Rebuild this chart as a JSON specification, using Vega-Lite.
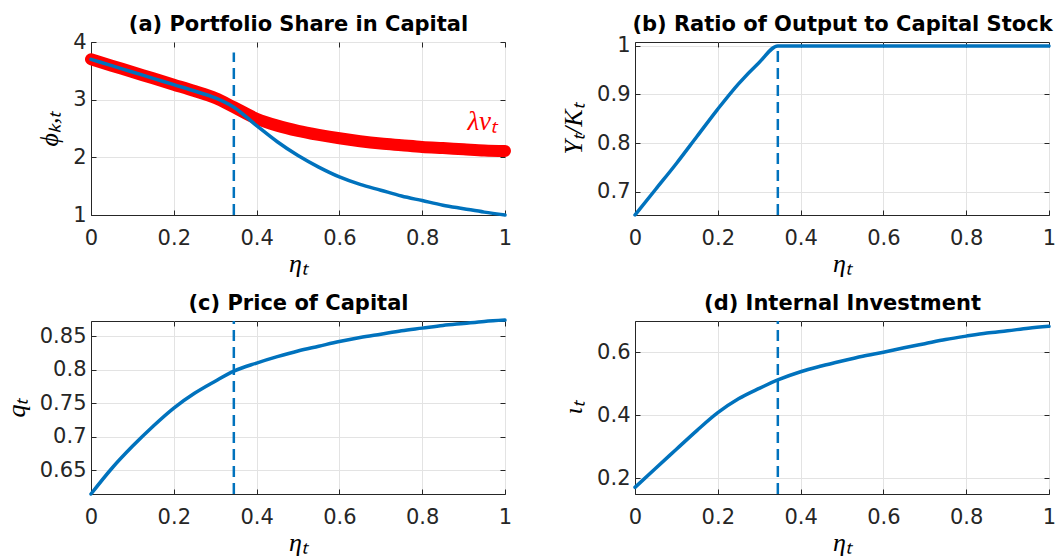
{
  "$schema": "https://vega.github.io/schema/vega-lite/v6.json",
  "background": "white",
  "padding": {"left": 2, "top": 12, "right": 0, "bottom": 0},
  "columns": 2,
  "bounds": "flush",
  "spacing": {"column": 130, "row": 106},
  "datasets": {
    "a_blue": [
      {"eta": 0, "v": 3.70}, {"eta": 0.05, "v": 3.59}, {"eta": 0.1, "v": 3.48}, {"eta": 0.15, "v": 3.37},
      {"eta": 0.2, "v": 3.26}, {"eta": 0.25, "v": 3.15}, {"eta": 0.3, "v": 3.03}, {"eta": 0.345, "v": 2.87},
      {"eta": 0.4, "v": 2.55}, {"eta": 0.45, "v": 2.27}, {"eta": 0.5, "v": 2.03}, {"eta": 0.55, "v": 1.83},
      {"eta": 0.6, "v": 1.66}, {"eta": 0.65, "v": 1.53}, {"eta": 0.7, "v": 1.43}, {"eta": 0.75, "v": 1.33},
      {"eta": 0.8, "v": 1.25}, {"eta": 0.85, "v": 1.17}, {"eta": 0.9, "v": 1.11}, {"eta": 0.95, "v": 1.05},
      {"eta": 1.0, "v": 1.0}
    ],
    "a_red": [
      {"eta": 0, "v": 3.70}, {"eta": 0.05, "v": 3.59}, {"eta": 0.1, "v": 3.48}, {"eta": 0.15, "v": 3.37},
      {"eta": 0.2, "v": 3.26}, {"eta": 0.25, "v": 3.15}, {"eta": 0.3, "v": 3.03}, {"eta": 0.345, "v": 2.87},
      {"eta": 0.4, "v": 2.67}, {"eta": 0.45, "v": 2.55}, {"eta": 0.5, "v": 2.46}, {"eta": 0.55, "v": 2.39},
      {"eta": 0.6, "v": 2.33}, {"eta": 0.65, "v": 2.28}, {"eta": 0.7, "v": 2.24}, {"eta": 0.75, "v": 2.21},
      {"eta": 0.8, "v": 2.18}, {"eta": 0.85, "v": 2.16}, {"eta": 0.9, "v": 2.14}, {"eta": 0.95, "v": 2.12},
      {"eta": 1.0, "v": 2.11}
    ],
    "b": [
      {"eta": 0, "v": 0.652}, {"eta": 0.05, "v": 0.705}, {"eta": 0.1, "v": 0.758}, {"eta": 0.15, "v": 0.814},
      {"eta": 0.2, "v": 0.870}, {"eta": 0.25, "v": 0.922}, {"eta": 0.3, "v": 0.966}, {"eta": 0.345, "v": 1.0},
      {"eta": 0.5, "v": 1.0}, {"eta": 0.75, "v": 1.0}, {"eta": 1.0, "v": 1.0}
    ],
    "c": [
      {"eta": 0, "v": 0.615}, {"eta": 0.05, "v": 0.653}, {"eta": 0.1, "v": 0.686}, {"eta": 0.15, "v": 0.716},
      {"eta": 0.2, "v": 0.743}, {"eta": 0.25, "v": 0.765}, {"eta": 0.3, "v": 0.783}, {"eta": 0.345, "v": 0.798},
      {"eta": 0.4, "v": 0.810}, {"eta": 0.45, "v": 0.8195}, {"eta": 0.5, "v": 0.828}, {"eta": 0.55, "v": 0.835},
      {"eta": 0.6, "v": 0.842}, {"eta": 0.65, "v": 0.848}, {"eta": 0.7, "v": 0.853}, {"eta": 0.75, "v": 0.858},
      {"eta": 0.8, "v": 0.862}, {"eta": 0.85, "v": 0.866}, {"eta": 0.9, "v": 0.869}, {"eta": 0.95, "v": 0.872},
      {"eta": 1.0, "v": 0.874}
    ],
    "d": [
      {"eta": 0, "v": 0.171}, {"eta": 0.05, "v": 0.232}, {"eta": 0.1, "v": 0.292}, {"eta": 0.15, "v": 0.352},
      {"eta": 0.2, "v": 0.408}, {"eta": 0.25, "v": 0.452}, {"eta": 0.3, "v": 0.485}, {"eta": 0.345, "v": 0.512},
      {"eta": 0.4, "v": 0.538}, {"eta": 0.45, "v": 0.556}, {"eta": 0.5, "v": 0.572}, {"eta": 0.55, "v": 0.587},
      {"eta": 0.6, "v": 0.600}, {"eta": 0.65, "v": 0.614}, {"eta": 0.7, "v": 0.627}, {"eta": 0.75, "v": 0.640},
      {"eta": 0.8, "v": 0.651}, {"eta": 0.85, "v": 0.661}, {"eta": 0.9, "v": 0.668}, {"eta": 0.95, "v": 0.676},
      {"eta": 1.0, "v": 0.682}
    ]
  },
  "concat": [
    {
      "width": 414, "height": 173,
      "resolve": {"axis": {"x": "independent", "y": "independent"}},
      "layer": [
        {
          "data": {"values": [{"eta": 0.345, "lo": 1, "hi": 3.82}]},
          "mark": {"type": "rule", "color": "#0072BD", "strokeWidth": 2.5, "strokeDash": [11, 6]},
          "encoding": {
            "x": {"field": "eta", "type": "quantitative", "scale": {"domain": [0, 1], "nice": false}, "title": "ηₜ", "axis": {"values": [0, 0.2, 0.4, 0.6, 0.8, 1], "format": "~g"}},
            "y": {"field": "lo", "type": "quantitative", "scale": {"domain": [1, 4], "nice": false, "zero": false}, "title": "ϕₖ,ₜ", "axis": {"values": [1, 2, 3, 4], "format": "~g"}},
            "y2": {"field": "hi"}
          }
        },
        {
          "data": {"name": "a_red"},
          "mark": {"type": "line", "color": "#FF0000", "strokeWidth": 12, "strokeCap": "round", "strokeJoin": "round", "interpolate": "monotone"},
          "encoding": {
            "x": {"field": "eta", "type": "quantitative", "scale": {"domain": [0, 1], "nice": false}, "axis": null},
            "y": {"field": "v", "type": "quantitative", "scale": {"domain": [1, 4], "nice": false, "zero": false}, "axis": null}
          }
        },
        {
          "data": {"name": "a_blue"},
          "mark": {"type": "line", "color": "#0072BD", "strokeWidth": 3.5, "strokeCap": "round", "interpolate": "monotone"},
          "encoding": {
            "x": {"field": "eta", "type": "quantitative", "scale": {"domain": [0, 1], "nice": false}, "axis": null},
            "y": {"field": "v", "type": "quantitative", "scale": {"domain": [1, 4], "nice": false, "zero": false}, "axis": null}
          }
        },
        {
          "data": {"values": [{"eta": 0.945, "v": 2.47, "label": "λvₜ"}]},
          "mark": {"type": "text", "color": "#FF0000", "font": "Liberation Serif", "fontStyle": "italic", "fontSize": 27, "align": "center", "baseline": "alphabetic"},
          "encoding": {
            "x": {"field": "eta", "type": "quantitative", "scale": {"domain": [0, 1], "nice": false}, "axis": null},
            "y": {"field": "v", "type": "quantitative", "scale": {"domain": [1, 4], "nice": false, "zero": false}, "axis": null},
            "text": {"field": "label"}
          }
        },
        {
          "data": {"name": "a_blue"},
          "mark": {"type": "line", "opacity": 0},
          "encoding": {
            "x": {"field": "eta", "type": "quantitative", "scale": {"domain": [0, 1], "nice": false}, "title": "(a) Portfolio Share in Capital", "axis": {"orient": "top", "values": [0, 0.2, 0.4, 0.6, 0.8, 1], "labels": false, "grid": false, "domain": false, "labelPadding": 0, "minExtent": 0, "maxExtent": 0, "titleFont": "DejaVu Sans", "titleFontSize": 21, "titleFontWeight": "bold", "titleFontStyle": "normal", "titlePadding": 8}},
            "y": {"field": "v", "type": "quantitative", "scale": {"domain": [1, 4], "nice": false, "zero": false}, "axis": {"orient": "right", "values": [1, 2, 3, 4], "labels": false, "grid": false, "domain": false, "title": null, "labelPadding": 0, "minExtent": 0, "maxExtent": 0}}
          }
        }
      ]
    },
    {
      "width": 414, "height": 173,
      "resolve": {"axis": {"x": "independent", "y": "independent"}},
      "layer": [
        {
          "data": {"values": [{"eta": 0.345, "lo": 0.652, "hi": 1.0}]},
          "mark": {"type": "rule", "color": "#0072BD", "strokeWidth": 2.5, "strokeDash": [11, 6]},
          "encoding": {
            "x": {"field": "eta", "type": "quantitative", "scale": {"domain": [0, 1], "nice": false}, "title": "ηₜ", "axis": {"values": [0, 0.2, 0.4, 0.6, 0.8, 1], "format": "~g"}},
            "y": {"field": "lo", "type": "quantitative", "scale": {"domain": [0.652, 1.008], "nice": false, "zero": false}, "title": "Yₜ/Kₜ", "axis": {"values": [0.7, 0.8, 0.9, 1], "format": "~g"}},
            "y2": {"field": "hi"}
          }
        },
        {
          "data": {"name": "b"},
          "mark": {"type": "line", "color": "#0072BD", "strokeWidth": 3.5, "strokeCap": "round", "interpolate": "monotone"},
          "encoding": {
            "x": {"field": "eta", "type": "quantitative", "scale": {"domain": [0, 1], "nice": false}, "axis": null},
            "y": {"field": "v", "type": "quantitative", "scale": {"domain": [0.652, 1.008], "nice": false, "zero": false}, "axis": null}
          }
        },
        {
          "data": {"name": "b"},
          "mark": {"type": "line", "opacity": 0},
          "encoding": {
            "x": {"field": "eta", "type": "quantitative", "scale": {"domain": [0, 1], "nice": false}, "title": "(b) Ratio of Output to Capital Stock", "axis": {"orient": "top", "values": [0, 0.2, 0.4, 0.6, 0.8, 1], "labels": false, "grid": false, "domain": false, "labelPadding": 0, "minExtent": 0, "maxExtent": 0, "titleFont": "DejaVu Sans", "titleFontSize": 21, "titleFontWeight": "bold", "titleFontStyle": "normal", "titlePadding": 8}},
            "y": {"field": "v", "type": "quantitative", "scale": {"domain": [0.652, 1.008], "nice": false, "zero": false}, "axis": {"orient": "right", "values": [0.7, 0.8, 0.9, 1], "labels": false, "grid": false, "domain": false, "title": null, "labelPadding": 0, "minExtent": 0, "maxExtent": 0}}
          }
        }
      ]
    },
    {
      "width": 414, "height": 173,
      "resolve": {"axis": {"x": "independent", "y": "independent"}},
      "layer": [
        {
          "data": {"values": [{"eta": 0.345, "lo": 0.615, "hi": 0.8726}]},
          "mark": {"type": "rule", "color": "#0072BD", "strokeWidth": 2.5, "strokeDash": [11, 6]},
          "encoding": {
            "x": {"field": "eta", "type": "quantitative", "scale": {"domain": [0, 1], "nice": false}, "title": "ηₜ", "axis": {"values": [0, 0.2, 0.4, 0.6, 0.8, 1], "format": "~g"}},
            "y": {"field": "lo", "type": "quantitative", "scale": {"domain": [0.615, 0.8726], "nice": false, "zero": false}, "title": "qₜ", "axis": {"values": [0.65, 0.7, 0.75, 0.8, 0.85], "format": "~g"}},
            "y2": {"field": "hi"}
          }
        },
        {
          "data": {"name": "c"},
          "mark": {"type": "line", "color": "#0072BD", "strokeWidth": 3.5, "strokeCap": "round", "interpolate": "monotone"},
          "encoding": {
            "x": {"field": "eta", "type": "quantitative", "scale": {"domain": [0, 1], "nice": false}, "axis": null},
            "y": {"field": "v", "type": "quantitative", "scale": {"domain": [0.615, 0.8726], "nice": false, "zero": false}, "axis": null}
          }
        },
        {
          "data": {"name": "c"},
          "mark": {"type": "line", "opacity": 0},
          "encoding": {
            "x": {"field": "eta", "type": "quantitative", "scale": {"domain": [0, 1], "nice": false}, "title": "(c) Price of Capital", "axis": {"orient": "top", "values": [0, 0.2, 0.4, 0.6, 0.8, 1], "labels": false, "grid": false, "domain": false, "labelPadding": 0, "minExtent": 0, "maxExtent": 0, "titleFont": "DejaVu Sans", "titleFontSize": 21, "titleFontWeight": "bold", "titleFontStyle": "normal", "titlePadding": 8}},
            "y": {"field": "v", "type": "quantitative", "scale": {"domain": [0.615, 0.8726], "nice": false, "zero": false}, "axis": {"orient": "right", "values": [0.65, 0.7, 0.75, 0.8, 0.85], "labels": false, "grid": false, "domain": false, "title": null, "labelPadding": 0, "minExtent": 0, "maxExtent": 0}}
          }
        }
      ]
    },
    {
      "width": 414, "height": 173,
      "resolve": {"axis": {"x": "independent", "y": "independent"}},
      "layer": [
        {
          "data": {"values": [{"eta": 0.345, "lo": 0.15, "hi": 0.699}]},
          "mark": {"type": "rule", "color": "#0072BD", "strokeWidth": 2.5, "strokeDash": [11, 6]},
          "encoding": {
            "x": {"field": "eta", "type": "quantitative", "scale": {"domain": [0, 1], "nice": false}, "title": "ηₜ", "axis": {"values": [0, 0.2, 0.4, 0.6, 0.8, 1], "format": "~g"}},
            "y": {"field": "lo", "type": "quantitative", "scale": {"domain": [0.15, 0.699], "nice": false, "zero": false}, "title": "ιₜ", "axis": {"values": [0.2, 0.4, 0.6], "format": "~g"}},
            "y2": {"field": "hi"}
          }
        },
        {
          "data": {"name": "d"},
          "mark": {"type": "line", "color": "#0072BD", "strokeWidth": 3.5, "strokeCap": "round", "interpolate": "monotone"},
          "encoding": {
            "x": {"field": "eta", "type": "quantitative", "scale": {"domain": [0, 1], "nice": false}, "axis": null},
            "y": {"field": "v", "type": "quantitative", "scale": {"domain": [0.15, 0.699], "nice": false, "zero": false}, "axis": null}
          }
        },
        {
          "data": {"name": "d"},
          "mark": {"type": "line", "opacity": 0},
          "encoding": {
            "x": {"field": "eta", "type": "quantitative", "scale": {"domain": [0, 1], "nice": false}, "title": "(d) Internal Investment", "axis": {"orient": "top", "values": [0, 0.2, 0.4, 0.6, 0.8, 1], "labels": false, "grid": false, "domain": false, "labelPadding": 0, "minExtent": 0, "maxExtent": 0, "titleFont": "DejaVu Sans", "titleFontSize": 21, "titleFontWeight": "bold", "titleFontStyle": "normal", "titlePadding": 8}},
            "y": {"field": "v", "type": "quantitative", "scale": {"domain": [0.15, 0.699], "nice": false, "zero": false}, "axis": {"orient": "right", "values": [0.2, 0.4, 0.6], "labels": false, "grid": false, "domain": false, "title": null, "labelPadding": 0, "minExtent": 0, "maxExtent": 0}}
          }
        }
      ]
    }
  ],
  "config": {
    "view": {"stroke": "#262626", "strokeWidth": 1},
    "axis": {
      "labelFont": "DejaVu Sans", "labelFontSize": 21, "labelColor": "#262626",
      "labelFlush": false, "labelOverlap": false, "labelPadding": 10,
      "titleFont": "Liberation Serif", "titleFontStyle": "italic", "titleFontWeight": "normal", "titleFontSize": 26, "titleColor": "#000000",
      "domainColor": "#262626", "tickColor": "#262626", "tickSize": -5, "grid": true, "gridColor": "#e3e3e3"
    },
    "axisX": {"titlePadding": 2, "labelPadding": 17},
    "axisY": {"titlePadding": 10}
  }
}
